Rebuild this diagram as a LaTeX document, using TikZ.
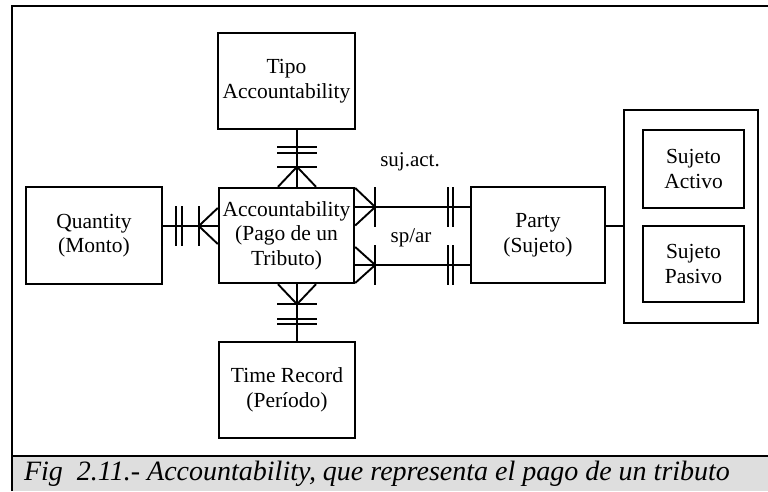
\documentclass[tikz,border=0pt]{standalone}
\usepackage{fontspec}
\setmainfont{Liberation Serif}
\usetikzlibrary{calc}
\definecolor{bandgray}{HTML}{DEDEDE}
\tikzset{
  entity/.style={draw, line width=2.4pt, align=center, inner sep=0pt,
    font=\fontsize{21.5}{24.5}\selectfont},
  conn/.style={line width=1.9pt},
  lbl/.style={font=\fontsize{21}{24}\selectfont, inner sep=0pt},
  frame/.style={line width=2.6pt}
}
\begin{document}
\begin{tikzpicture}[x=1pt,y=-1pt]
\useasboundingbox (0,0) rectangle (768,491);

% caption band and frame
\fill[bandgray] (12,456) rectangle (768,491);
\draw[frame] (12,491) -- (12,6) -- (768,6);
\draw[frame] (12,456) -- (768,456);
\node[font=\fontsize{28}{32}\itshape, inner sep=0pt] (cap) at (377,474)
  {Fig\ \ 2.11.- Accountability, que representa el pago de un tributo};

% entities
\node[entity, minimum width=135pt, minimum height=95pt] (acc) at (286.5,235.5)
  {Accountability\\(Pago de un\\Tributo)};
\node[entity, minimum width=137pt, minimum height=96pt] (tipo) at (286.5,81)
  {Tipo\\Accountability};
\node[entity, minimum width=136pt, minimum height=97pt] (qty) at (94,235.5)
  {Quantity\\(Monto)};
\node[entity, minimum width=136pt, minimum height=96pt] (time) at (287,390)
  {Time Record\\(Período)};
\node[entity, minimum width=134pt, minimum height=96pt] (party) at (538,235)
  {Party\\(Sujeto)};
\node[entity, minimum width=134pt, minimum height=213pt] (group) at (691,216.5) {};
\node[entity, minimum width=101pt, minimum height=78pt] (activo) at (693.5,169)
  {Sujeto\\Activo};
\node[entity, minimum width=101pt, minimum height=76pt] (pasivo) at (693.5,264)
  {Sujeto\\Pasivo};

% Quantity -- Accountability
\draw[conn] ($(qty.east)+(0,-9.5)$) -- ($(acc.west)+(0,-9.5)$);
\draw[conn] ($(qty.east)+(13,-29.5)$) -- +(0,40);
\draw[conn] ($(qty.east)+(19,-29.5)$) -- +(0,40);
\coordinate (vq) at ($(acc.west)+(-19,-9.5)$);
\draw[conn] ($(vq)+(0,-20)$) -- ($(vq)+(0,20)$);
\draw[conn] ($(acc.west)+(0,-27.5)$) -- (vq) -- ($(acc.west)+(0,8.5)$);

% Tipo Accountability -- Accountability
\draw[conn] ($(tipo.south)+(10.5,0)$) -- ($(acc.north)+(10.5,0)$);
\draw[conn] ($(tipo.south)+(-9.5,17)$) -- +(40,0);
\draw[conn] ($(tipo.south)+(-9.5,23)$) -- +(40,0);
\coordinate (vt) at ($(acc.north)+(10.5,-20)$);
\draw[conn] ($(vt)+(-20,0)$) -- ($(vt)+(20,0)$);
\draw[conn] ($(acc.north)+(-8.5,0)$) -- (vt) -- ($(acc.north)+(29.5,0)$);

% Accountability -- Time Record
\draw[conn] ($(acc.south)+(10.5,0)$) -- ($(time.north)+(10,0)$);
\coordinate (vb) at ($(acc.south)+(10.5,20)$);
\draw[conn] ($(vb)+(-20,0)$) -- ($(vb)+(20,0)$);
\draw[conn] ($(acc.south)+(-8.5,0)$) -- (vb) -- ($(acc.south)+(29.5,0)$);
\draw[conn] ($(time.north)+(-10,-22)$) -- +(40,0);
\draw[conn] ($(time.north)+(-10,-17)$) -- +(40,0);

% Accountability -- Party (suj.act.)
\draw[conn] ($(acc.east)+(0,-28.5)$) -- ($(party.west)+(0,-28)$);
\coordinate (vu) at ($(acc.east)+(20,-28.5)$);
\draw[conn] ($(vu)+(0,-20)$) -- ($(vu)+(0,20)$);
\draw[conn] ($(acc.east)+(0,-47.5)$) -- (vu) -- ($(acc.east)+(0,-10)$);
\draw[conn] ($(party.west)+(-22,-48)$) -- +(0,40);
\draw[conn] ($(party.west)+(-17,-48)$) -- +(0,40);
\node[lbl] (sujact) at (410,162) {suj.act.};

% Accountability -- Party (sp/ar)
\draw[conn] ($(acc.east)+(0,29.5)$) -- ($(party.west)+(0,30)$);
\coordinate (vl) at ($(acc.east)+(20,29.5)$);
\draw[conn] ($(vl)+(0,-20)$) -- ($(vl)+(0,20)$);
\draw[conn] ($(acc.east)+(0,11.5)$) -- (vl) -- ($(acc.east)+(0,47.5)$);
\draw[conn] ($(party.west)+(-22,10)$) -- +(0,40);
\draw[conn] ($(party.west)+(-17,10)$) -- +(0,40);
\node[lbl] (spar) at (411,238) {sp/ar};

% Party -- subtypes
\draw[line width=1.2pt] ($(party.east)+(0,-9)$) -- ($(group.west)+(0,9.5)$);
\end{tikzpicture}
\end{document}
